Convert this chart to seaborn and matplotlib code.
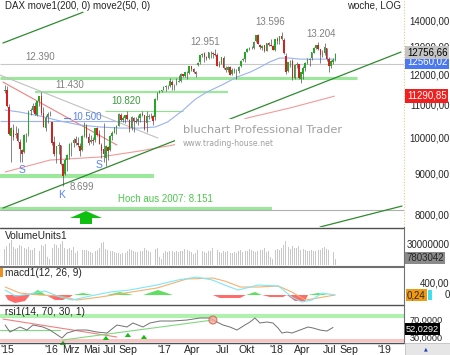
import numpy as np
import pandas as pd
import matplotlib
matplotlib.use("Agg")
import matplotlib.pyplot as plt
import seaborn as sns
from matplotlib.lines import Line2D
from matplotlib.patches import Rectangle, Polygon, Ellipse
from matplotlib.transforms import blended_transform_factory as btf

# ---------------- data (weekly DAX candles) ----------------
first_week = "2015-08-07"
opens = [11450, 11480, 10950, 10050, 10250, 10100, 10150, 9900, 9650, 9600, 10080, 10120, 10800, 10860, 10970, 10700, 11120, 11290, 10760, 10300, 10620, 10740,
         10480, 9900, 9560, 9770, 9790, 9280, 9000, 9380, 9510, 9800, 9850, 9960, 9860, 9780, 9650, 10060, 10360, 10040, 9880, 9940,
         9940, 10290, 10110, 9800, 9700, 9450, 9750, 9650, 10070, 10150, 10340, 10370, 10700, 10530, 10600, 10690, 10540, 10290, 10600, 10520,
         10500, 10590, 10720, 10680, 10450, 10640, 10680, 10660, 10620, 11200, 11410, 11450,
         11500, 11580, 11620, 11640, 11780, 11660, 11690, 11770, 11810, 12030, 11970, 12080, 12060, 12320, 12220, 12100, 12350, 12450, 12720, 12780,
         12640, 12600, 12820, 12800, 12770, 12720, 12330, 12400, 12620, 12260, 12170, 12290, 12050, 12150, 12160, 12150, 12310, 12530, 12580, 12840,
         12960, 13000, 13000, 13230, 13480, 13110, 13000, 13080, 12880, 13170, 13110, 13060,
         12900, 13330, 13250, 13450, 13300, 12680, 12150, 12450, 12500, 11900, 12350, 12400, 11880, 12050, 12250, 12440, 12540, 12600, 12810, 13000,
         13080, 12940, 12730, 12780, 12990, 12570, 12330, 12480, 12550]
highs = [11670, 11640, 11050, 10320, 10420, 10370, 10300, 9960, 9700, 10110, 10150, 10850, 10900, 11060, 11100, 11130, 11310, 11430, 10950, 10700, 10780, 10800,
         10480, 10050, 9780, 9880, 9800, 9310, 9450, 9560, 9850, 9900, 10000, 10060, 10030, 9850, 10100, 10490, 10420, 10150, 10100, 10030,
         10300, 10340, 10250, 9850, 10460, 9800, 9780, 10090, 10200, 10340, 10390, 10760, 10750, 10650, 10700, 10800, 10560, 10660, 10620, 10640,
         10680, 10750, 10830, 10700, 10800, 10730, 10760, 10700, 11230, 11420, 11480, 11500,
         11640, 11660, 11660, 11890, 11820, 11700, 11890, 11990, 12080, 12050, 12100, 12150, 12320, 12330, 12240, 12140, 12470, 12720, 12790, 12840,
         12700, 12840, 12880, 12850, 12951, 12810, 12520, 12650, 12680, 12330, 12320, 12330, 12250, 12240, 12200, 12320, 12540, 12620, 12840, 12980,
         13010, 13050, 13250, 13500, 13526, 13150, 13080, 13100, 13160, 13200, 13340, 13100,
         13330, 13400, 13440, 13596, 13360, 12800, 12480, 12550, 12560, 12380, 12470, 12410, 12100, 12330, 12480, 12600, 12600, 12840, 13020, 13110,
         13204, 12950, 12900, 13170, 13000, 12640, 12530, 12620, 12800]
lows = [11380, 10930, 10100, 9338, 9950, 10010, 9900, 9325, 9330, 9580, 9880, 10050, 10680, 10780, 10680, 10660, 10980, 10700, 10330, 10200, 10440, 10650,
        9810, 9500, 9310, 9540, 9240, 8699, 8990, 9100, 9400, 9500, 9750, 9810, 9750, 9480, 9620, 10040, 10000, 9810, 9850, 9790,
        9880, 10060, 9830, 9430, 9340, 9214, 9370, 9640, 9950, 10150, 10120, 10360, 10500, 10480, 10450, 10550, 10190, 10250, 10170, 10440,
        10400, 10490, 10650, 10230, 10170, 10560, 10600, 10400, 10550, 11180, 11400, 11420,
        11480, 11450, 11530, 11580, 11510, 11510, 11670, 11760, 11750, 11920, 11930, 11880, 12040, 12160, 12090, 11950, 12320, 12400, 12650, 12480,
        12550, 12580, 12630, 12610, 12700, 12310, 12270, 12390, 12210, 12100, 12100, 11990, 12000, 12080, 11870, 12080, 12290, 12500, 12480, 12830,
        12890, 12930, 12950, 13200, 13120, 12950, 12900, 12850, 12860, 13050, 13060, 12900,
        12870, 13150, 13150, 13290, 12770, 12030, 12100, 12300, 11830, 11860, 12260, 11860, 11730, 11860, 12160, 12400, 12310, 12540, 12790, 12950,
        12890, 12440, 12640, 12720, 12500, 12100, 12250, 12380, 12520]
closes = [11490, 10985, 10124, 10298, 10038, 10123, 9916, 9688, 9553, 10096, 10104, 10794, 10850, 10988, 10708, 11119, 11293, 10752, 10340, 10608, 10728, 10743,
          9849, 9545, 9764, 9798, 9286, 8967, 9388, 9513, 9824, 9831, 9950, 9851, 9794, 9622, 10051, 10373, 10039, 9870, 9952, 9917,
          10287, 10103, 9834, 9631, 9557, 9776, 9629, 10067, 10147, 10337, 10367, 10713, 10544, 10588, 10683, 10573, 10276, 10627, 10511, 10490,
          10580, 10711, 10696, 10259, 10668, 10664, 10699, 10513, 11203, 11404, 11450, 11481,
          11599, 11629, 11630, 11814, 11651, 11666, 11757, 11804, 12027, 11963, 12095, 12064, 12313, 12225, 12109, 12049, 12438, 12717, 12770, 12638,
          12602, 12823, 12816, 12752, 12733, 12325, 12389, 12632, 12240, 12163, 12298, 12014, 12165, 12168, 12142, 12304, 12519, 12592, 12829, 12956,
          12992, 12991, 13217, 13479, 13127, 13007, 13060, 12861, 13154, 13104, 13072, 12918,
          13320, 13245, 13434, 13340, 12785, 12107, 12452, 12484, 11914, 12346, 12390, 11886, 12097, 12241, 12442, 12540, 12580, 12820, 13001, 13078,
          12938, 12724, 12767, 13011, 12580, 12306, 12496, 12541, 12757]
volume_mio = [24, 28, 33, 38, 27, 24, 26, 30, 28, 25, 24, 27, 22, 23, 25, 22, 21, 30, 28, 32, 12, 8,
              26, 32, 30, 25, 31, 36, 26, 24, 25, 23, 27, 18, 20, 24, 22, 23, 22, 21, 19, 18,
              20, 22, 25, 33, 34, 24, 22, 21, 20, 19, 18, 17, 16, 17, 18, 20, 24, 22, 21, 19,
              19, 20, 20, 26, 23, 21, 19, 21, 24, 26, 11, 9,
              18, 20, 19, 20, 21, 19, 20, 19, 20, 21, 24, 22, 20, 19, 16, 18, 22, 21, 20, 19,
              17, 21, 20, 26, 21, 22, 19, 18, 20, 19, 21, 18, 17, 19, 18, 20, 22, 19, 20, 21,
              24, 22, 20, 19, 21, 23, 22, 26, 19, 21, 11, 8,
              22, 24, 23, 26, 30, 36, 27, 24, 28, 26, 25, 29, 22, 24, 22, 21, 20, 22, 21, 20,
              23, 22, 25, 27, 24, 22, 20, 19, 7.8]

# moving averages (blue = 50, red = 200)
ma50_t = [2015.60, 2015.73, 2015.91, 2016.09, 2016.27, 2016.45, 2016.63, 2016.80, 2016.94, 2017.05, 2017.19, 2017.30, 2017.40, 2017.54, 2017.67, 2017.79, 2017.88, 2017.96, 2018.05, 2018.14, 2018.23, 2018.37, 2018.54]
ma50_v = [10846, 10783, 10659, 10507, 10384, 10325, 10294, 10294, 10325, 10475, 10846, 11197, 11425, 11672, 11935, 12110, 12286, 12466, 12610, 12610, 12570, 12570, 12570]
ma200_t = [2015.60, 2016.00, 2016.45, 2016.80, 2017.10, 2017.43, 2017.76, 2018.14, 2018.54]
ma200_v = [9062, 9382, 9466, 9631, 9800, 10150, 10597, 10909, 11291]

# drawn lines (year, price)
trend_up_t, trend_up_v = [2015.58, 2019.134], [8164, 12832]
trend_top_t, trend_top_v = [2015.58, 2016.295], [13171, 14401]
trend_low_t, trend_low_v = [2018.411, 2019.143], [7727, 8211]
red_down_t, red_down_v = [2015.58, 2016.598], [11763, 9800]
gray_down_t, gray_down_v = [2015.554, 2016.964], [12004, 10000]
levels = [12390, 11900, 11430, 10820, 10500, 8960, 8151]

# MACD (12, 26, 9)
macd_t = [2015.60, 2015.69, 2015.82, 2015.955, 2016.09, 2016.20, 2016.36, 2016.54, 2016.71, 2016.955, 2017.14, 2017.31, 2017.45, 2017.56, 2017.68, 2017.86, 2018.04, 2018.16, 2018.25, 2018.34, 2018.43, 2018.545]
macd_v = [182, -36, 36, 145, -73, -182, -36, 109, 182, 364, 545, 655, 545, 364, 182, 364, 327, -73, -255, -182, 73, 0]
signal_t = [2015.60, 2015.73, 2015.91, 2016.09, 2016.24, 2016.45, 2016.67, 2016.955, 2017.22, 2017.455, 2017.56, 2017.70, 2017.86, 2018.04, 2018.16, 2018.28, 2018.39, 2018.545]
signal_v = [291, 73, 0, -36, -182, -73, 73, 255, 582, 618, 509, 291, 291, 327, 109, -182, -109, 0]
hist_t = [2015.60, 2015.625, 2015.6875, 2015.777, 2015.821, 2015.893, 2015.964, 2016.045, 2016.116, 2016.179, 2016.205, 2016.295, 2016.384, 2016.509, 2016.625, 2016.741, 2016.83, 2016.964, 2017.098, 2017.455, 2017.518, 2017.696, 2017.75, 2017.83, 2017.893, 2017.964, 2018.08, 2018.116, 2018.1875, 2018.277, 2018.304, 2018.393, 2018.482, 2018.545]
hist_v = [0, -182, -291, -218, 0, 182, 0, -182, -182, -73, 0, 73, 0, 0, 109, 0, 0, 182, 0, 0, -109, -109, 0, 109, 0, -73, -73, 0, -218, -218, 0, 73, 0, 0]

# RSI (14)
rsi_t = [2015.60, 2015.643, 2015.732, 2015.795, 2015.848, 2015.9375, 2016.0, 2016.107, 2016.152, 2016.241, 2016.33, 2016.42, 2016.509, 2016.598, 2016.6875, 2016.741, 2016.83, 2016.893, 2016.982, 2017.098, 2017.223, 2017.339, 2017.429, 2017.491, 2017.545, 2017.607, 2017.67, 2017.741, 2017.786, 2017.83, 2017.875, 2017.9375, 2017.991, 2018.036, 2018.071, 2018.116, 2018.161, 2018.232, 2018.304, 2018.348, 2018.411, 2018.473, 2018.527]
rsi_v = [56.7, 43.3, 52.9, 47.1, 56.7, 52.9, 47.1, 31.9, 41.4, 47.1, 47.1, 43.3, 41.4, 56.7, 52.9, 60.5, 52.9, 60.5, 64.3, 64.3, 66.2, 70.0, 70.0, 62.4, 56.7, 52.9, 47.1, 56.7, 62.4, 70.0, 60.5, 62.4, 60.5, 51.0, 41.4, 43.3, 41.4, 47.1, 52.9, 51.0, 47.1, 45.2, 52.0]
rsi_red_t, rsi_red_v = [2015.58, 2016.598], [68.1, 33.8]
rsi_green_t, rsi_green_v = [2016.116, 2017.455], [28.1, 66.2]
rsi_flat_t, rsi_flat_v = [2015.554, 2016.09], [47.1, 47.1]
rsi_arrows_t = [2016.116, 2016.5, 2016.696, 2016.839]
rsi_arrows_tip = [31.9, 41.4, 47.1, 43.3]

x_labels = ["'15", "'16", "Mrz", "Mai", "Jul", "Sep", "'17", "Apr", "Jul", "Okt", "'18", "Apr", "Jul", "Sep", "'19"]
x_label_px = [7, 51, 71, 92, 110, 128, 164, 192, 223, 247, 276, 302, 330, 349, 384]
price_ticks = [14000, 13000, 12000, 11000, 10000, 9000, 8000]

# ---------------- figure ----------------
sns.set_style("white")
plt.rcParams['font.family'] = ['Liberation Sans', 'DejaVu Sans']

W, H = 450, 355
fig = plt.figure(figsize=(4.5, 3.55), dpi=100)
fig.patch.set_facecolor("white")


def P(px, py):
    return px / W, 1 - py / H


def add_ax(top, bottom, right=404):
    return fig.add_axes([0, 1 - bottom / H, right / W, (bottom - top) / H])


X0, X1 = 2015.554, 2019.161
ax = add_ax(0, 227)
axv = add_ax(228, 266)
axm = add_ax(267, 304)
axr = add_ax(305, 343)
for a in (ax, axv, axm, axr):
    a.set_xlim(X0, X1)
    a.axis("off")

dates = pd.date_range(first_week, periods=len(closes), freq="W-FRI")
t = np.asarray(dates.year + (dates.dayofyear - 1) / 365.25, dtype=float)
o, h, l, c = (np.asarray(v, dtype=float) for v in (opens, highs, lows, closes))

# --- main price panel ---
ax.set_yscale("log")
ax.set_ylim(7727, 14921)
ax.yaxis.set_minor_locator(matplotlib.ticker.NullLocator())

lvl_12390, lvl_11900, lvl_11430, lvl_10820, lvl_10500, lvl_8960, lvl_8151 = levels
ax.hlines(lvl_12390, X0, X1, color="#c8c8c8", lw=0.8, zorder=1)
ax.hlines(lvl_11900, X0, 2018.741, color="#9be89b", lw=2.2, zorder=1)
ax.hlines(lvl_11430, 2015.866, 2017.589, color="#9be89b", lw=1.6, zorder=1)
ax.hlines(lvl_10820, 2016.491, 2017.1875, color="#90e090", lw=0.8, zorder=1)
ax.hlines(lvl_10500, X0, 2016.893, color="#98b4f4", lw=0.8, zorder=1)
ax.hlines(lvl_8960, X0, 2016.929, color="#9be89b", lw=2.9, zorder=1)
ax.hlines(lvl_8151, X0, 2017.982, color="#9be89b", lw=2.9, zorder=1)
ax.hlines(lvl_8151 * 0.997, X0, X1, color="#b0b0b0", lw=0.8, zorder=1)

ax.plot(gray_down_t, gray_down_v, color="#c0c0c0", lw=0.8, zorder=1)
ax.plot(red_down_t, red_down_v, color="#f08080", lw=0.8, zorder=1)
sns.lineplot(x=ma200_t, y=ma200_v, ax=ax, color="#f29a9a", lw=0.8, estimator=None, sort=False, legend=False, zorder=2)
sns.lineplot(x=ma50_t, y=ma50_v, ax=ax, color="#9ab2f2", lw=0.8, estimator=None, sort=False, legend=False, zorder=2)
ax.plot(trend_up_t, trend_up_v, color="#2e8b2e", lw=0.9, zorder=2)
ax.plot(trend_top_t, trend_top_v, color="#2e8b2e", lw=0.9, zorder=2)
ax.plot(trend_low_t, trend_low_v, color="#2e8b2e", lw=0.9, zorder=2)

up = c >= o
body_lo = np.minimum(o, c)
body_h = np.maximum(np.abs(c - o), 10)
ax.vlines(t, l, h, color="#505050", lw=0.5, zorder=3)
ax.bar(t, body_h, bottom=body_lo, width=0.0135, color=np.where(up, "#25a825", "#d42020"),
       edgecolor="none", zorder=4)

# watermark with white background covering lines
ax.add_patch(Rectangle((175 / 404, 1 - 150 / 227), (345 - 175) / 404, 31 / 227,
                       transform=ax.transAxes, facecolor="white", edgecolor="none", zorder=5))
ax.text(183 / 404, 1 - 130 / 227, "bluchart Professional Trader", transform=ax.transAxes,
        fontsize=8.2, color="#a0a0a0", family="DejaVu Sans", va="center", ha="left", zorder=6)
ax.text(183 / 404, 1 - 143 / 227, "www.trading-house.net", transform=ax.transAxes,
        fontsize=5.6, color="#a0a0a0", family="DejaVu Sans", va="center", ha="left", zorder=6)


def atext(px, py, s, color="#808080", size=7, ha="center", **kw):
    ax.text(px / 404, 1 - py / 227, s, transform=ax.transAxes, color=color, fontsize=size,
            ha=ha, va="center", zorder=7, **kw)


atext(205, 42, "12.951")
atext(270, 22, "13.596")
atext(321, 34, "13.204")
atext(40, 57, "12.390")
atext(70, 85, "11.430")
atext(126, 101, "10.820", color="#3a9a3a")
atext(87, 117, "10.500", color="#5b7fe6")
ax.plot([64 / 404, 70 / 404], [1 - 118 / 227] * 2, transform=ax.transAxes, color="#5b7fe6", lw=0.8)
atext(22, 170, "S", color="#5b84f0", size=7.5)
atext(99, 165, "S", color="#5b84f0", size=7.5)
atext(62, 195, "K", color="#5b84f0", size=7.5)
atext(82, 187, "8.699")
atext(165, 199, "Hoch aus 2007: 8.151", color="#4cc84c")

arrow_px = [(70, 218), (86, 211), (102, 218), (92, 218), (92, 224), (80, 224), (80, 218)]
fig.add_artist(Polygon([P(x, y) for x, y in arrow_px], closed=True, transform=fig.transFigure,
                       facecolor="#10c010", edgecolor="none"))

fig.text(*P(5, 6), "DAX move1(200, 0) move2(50, 0)", fontsize=7, va="center", ha="left")
fig.text(*P(401, 6), "woche, LOG", fontsize=7, va="center", ha="right")

# right price axis
tr = btf(fig.transFigure, ax.transData)
for p in price_ticks:
    fig.text(449.5 / W, p, f"{p},00", transform=tr, fontsize=7, ha="right", va="center")
fig.add_artist(Line2D([404 / W, 404 / W], [1 - 227 / H, 1], transform=fig.transFigure,
                      color="#e8c888", lw=0.8, ls=(0, (1, 1.5))))
fig.text(*P(407, 62), "12560,02", fontsize=7, color="white", va="center", ha="left",
         bbox=dict(facecolor="#4a78f0", edgecolor="none", pad=1.2))
fig.text(*P(407, 52.5), "12756,66", fontsize=7, color="black", va="center", ha="left",
         bbox=dict(facecolor="#c4c4c4", edgecolor="none", pad=1.2))
fig.text(*P(407, 96), "11290,85", fontsize=7, color="white", va="center", ha="left",
         bbox=dict(facecolor="#f02020", edgecolor="none", pad=1.2))

# --- volume ---
axv.set_ylim(-2.3, 56)
axv.bar(t, volume_mio, width=0.45 * 7 / 365.25, color="#c8c8c8", edgecolor="none")
fig.text(*P(5, 236), "VolumeUnits1", fontsize=7.3, va="center", ha="left")
fig.text(*P(449.5, 245), "30000000", fontsize=7, va="center", ha="right")
fig.text(*P(406, 258), "7803042", fontsize=7, va="center", ha="left",
         bbox=dict(facecolor="#8a8a8a", edgecolor="none", pad=1.0))

# --- MACD ---
axm.set_ylim(-327, 1020)
ht = np.asarray(hist_t)
hv = np.asarray(hist_v, dtype=float)
axm.fill_between(ht, 0, hv, where=hv <= 0, interpolate=True, color="#ff6a6a", lw=0)
axm.fill_between(ht, 0, hv, where=hv >= 0, interpolate=True, color="#5ee05e", lw=0)
sns.lineplot(x=signal_t, y=signal_v, ax=axm, color="#f8b070", lw=0.8, estimator=None, sort=False, legend=False)
sns.lineplot(x=macd_t, y=macd_v, ax=axm, color="#7ae8f8", lw=0.8, estimator=None, sort=False, legend=False)
axm.set_xlim(X0, X1)
axm.axis("off")
fig.text(*P(5, 273), "macd1(12, 26, 9)", fontsize=7.3, va="center", ha="left")
fig.add_artist(Rectangle(P(0, 277), 3 / W, 10 / H, transform=fig.transFigure, facecolor="#f09020", edgecolor="none"))
fig.text(*P(449.5, 284), "400,00", fontsize=7, va="center", ha="right")
fig.add_artist(Rectangle(P(428, 300), 4 / W, 10 / H, transform=fig.transFigure, facecolor="#40e0f0", edgecolor="none"))
fig.text(*P(407, 295), "0,24", fontsize=7, va="center", ha="left",
         bbox=dict(facecolor="#f09a10", edgecolor="none", pad=1.0))
fig.text(*P(445, 295), "0", fontsize=7, va="center", ha="left")

# --- RSI ---
axr.set_ylim(22.4, 94.8)
axr.axhspan(70, 77, color="#aef2ae", lw=0)
axr.axhspan(24, 30, color="#f8c4c4", lw=0)
axr.plot(rsi_red_t, rsi_red_v, color="#f08080", lw=0.8)
axr.plot(rsi_green_t, rsi_green_v, color="#80d880", lw=0.8)
axr.plot(rsi_flat_t, rsi_flat_v, color="#80d880", lw=0.8)
sns.lineplot(x=rsi_t, y=rsi_v, ax=axr, color="#707070", lw=0.7, estimator=None, sort=False, legend=False)
axr.set_xlim(X0, X1)
axr.set_ylim(22.4, 94.8)
axr.axis("off")
axr.add_patch(Ellipse((2017.455, 66.2), 8 / 112, 8 / 0.525, facecolor="#f0a898", edgecolor="#d06050", lw=0.8, alpha=0.8, zorder=5))
for at, tip in zip(rsi_arrows_t, rsi_arrows_tip):
    axr.annotate("", xy=(at, tip), xytext=(at, tip - 11),
                 arrowprops=dict(arrowstyle="simple,head_width=0.9,head_length=0.6,tail_width=0.35",
                                 color="#10c010", lw=0, mutation_scale=5), annotation_clip=False)
fig.text(*P(5, 312), "rsi1(14, 70, 30, 1)", fontsize=7.3, va="center", ha="left")
fig.text(*P(410, 320), "70,0000", fontsize=6.6, va="center", ha="left")
fig.text(*P(410, 338), "30,0000", fontsize=6.6, va="center", ha="left")
fig.text(*P(406, 329), "52,0292", fontsize=6.6, color="white", va="center", ha="left",
         bbox=dict(facecolor="black", edgecolor="none", pad=0.8))

# panel separators
for py, col, lw in [(227.5, "#505050", 1.0), (266.5, "#707070", 1.5), (304.5, "#505050", 1.0), (343, "#505050", 1.0)]:
    fig.add_artist(Line2D([0, 404 / W], [1 - py / H] * 2, transform=fig.transFigure, color=col, lw=lw))
fig.add_artist(Line2D([404 / W, 404 / W], [1 - 343 / H, 1 - 227 / H], transform=fig.transFigure, color="#707070", lw=0.8))

# x labels
for s, px in zip(x_labels, x_label_px):
    fig.text(*P(px, 350), s, fontsize=7.6, ha="center", va="center")
fig.add_artist(Rectangle(P(405, 355), 45 / W, 12 / H, transform=fig.transFigure, facecolor="#e6e6e6", edgecolor="#c0c0c0", lw=0.6))
fig.text(*P(426, 349), "\u25b2", fontsize=3.5, color="#2040c0", ha="center", va="center", family="DejaVu Sans")

fig.savefig("out.png", dpi=100)
